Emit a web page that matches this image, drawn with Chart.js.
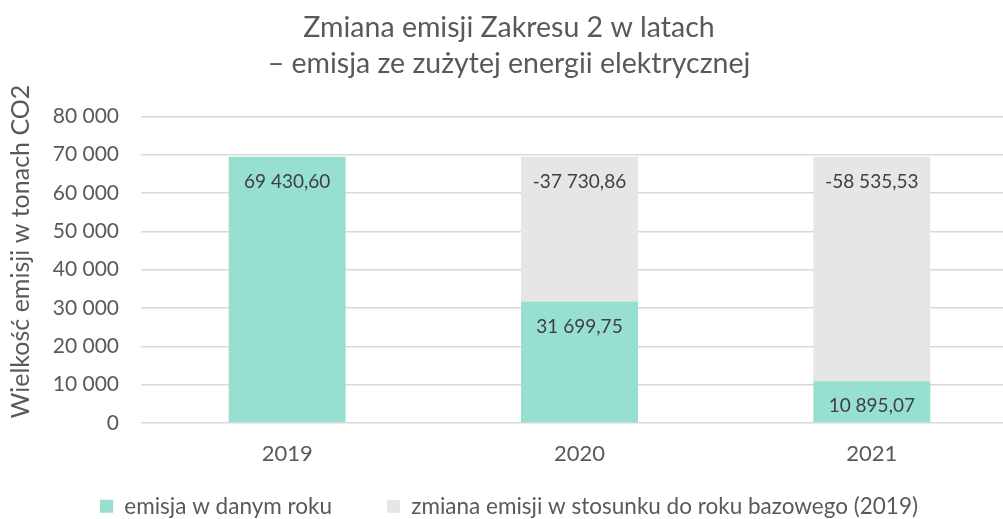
<!DOCTYPE html>
<html>
<head>
<meta charset="utf-8">
<title>Zmiana emisji Zakresu 2</title>
<script src="https://cdn.jsdelivr.net/npm/chart.js"></script>
<style>
  body { margin: 0; background: #fff; overflow: hidden; }
  #wrap { width: 1003px; height: 519px; overflow: hidden; }
</style>
</head>
<body>
<div id="wrap">
  <canvas id="myChart" width="1018" height="519"></canvas>
</div>
<script>
// data
var years = ['2019', '2020', '2021'];
var emisja = [69430.60, 31699.75, 10895.07];          // emisja w danym roku
var zmiana = [null, -37730.86, -58535.53];            // zmiana vs 2019
var seriesNames = ['emisja w danym roku', 'zmiana emisji w stosunku do roku bazowego (2019)'];
var yMax = 80000;
var yStep = 10000;

var textColor = '#595959';

// polish number format: "69 430,60"
function fmt(v, dec) {
    var neg = v < 0;
    var s = Math.abs(v).toFixed(dec);
    var parts = s.split('.');
    var int = parts[0].replace(/\B(?=(\d{3})+(?!\d))/g, ' ');
    return (neg ? '-' : '') + int + (parts[1] ? ',' + parts[1] : '');
}

// the change is shown as the grey part stacked on top of the current emission
var zmianaHeight = [];
for (let i = 0; i < zmiana.length; i++) {
    zmianaHeight.push(zmiana[i] == null ? null : -zmiana[i]);
}
var labelSources = [emisja, zmiana];

var barLabels = {
    id: 'barLabels',
    afterDatasetsDraw: function (chart) {
        var ctx = chart.ctx;
        ctx.save();
        ctx.font = '19px Lato';
        ctx.fillStyle = '#404040';
        ctx.textAlign = 'center';
        ctx.textBaseline = 'middle';
        chart.data.datasets.forEach(function (ds, di) {
            var meta = chart.getDatasetMeta(di);
            meta.data.forEach(function (bar, i) {
                var v = labelSources[di][i];
                if (v == null) return;
                ctx.fillText(fmt(v, 2), bar.x, bar.y + 25);
            });
        });
        ctx.restore();
    }
};

// x axis is kept thin so the legend can sit close; let its labels draw below it.
// y axis title is centred a bit higher, like in the original
var axisTweaks = {
    id: 'axisTweaks',
    afterLayout: function (chart) {
        chart.scales.x.bottom = chart.height;
        chart.scales.y.top = chart.chartArea.top - 36;
    }
};

Chart.defaults.font.family = 'Lato';
Chart.defaults.color = textColor;

var ctx = document.getElementById('myChart').getContext('2d');
var myChart = new Chart(ctx, {
    type: 'bar',
    data: {
        labels: years,
        datasets: [{
            label: seriesNames[0],
            data: emisja,
            backgroundColor: '#97DFD0',
            barPercentage: 0.4,
            categoryPercentage: 1.0
        }, {
            label: seriesNames[1],
            data: zmianaHeight,
            backgroundColor: '#E6E6E6',
            barPercentage: 0.4,
            categoryPercentage: 1.0
        }]
    },
    options: {
        responsive: false,
        animation: false,
        layout: { padding: { top: 4, bottom: 0, left: 0, right: 0 } },
        plugins: {
            title: {
                display: true,
                text: ['Zmiana emisji Zakresu 2 w latach', '\u2013 emisja ze zużytej energii elektrycznej'],
                color: textColor,
                font: { size: 28.5, weight: 'normal', lineHeight: 1.25 },
                padding: { top: 6, bottom: 35 }
            },
            legend: {
                position: 'bottom',
                maxHeight: 79,
                labels: {
                    boxWidth: 13,
                    boxHeight: 13,
                    padding: 55,
                    color: textColor,
                    font: { size: 22.5 }
                }
            },
            tooltip: { enabled: false }
        },
        scales: {
            x: {
                stacked: true,
                grid: { display: false },
                border: { display: false },
                ticks: { font: { size: 22 }, padding: 10 },
                afterFit: function (scale) { scale.height = 17; }
            },
            y: {
                stacked: true,
                min: 0,
                max: yMax,
                ticks: {
                    stepSize: yStep,
                    font: { size: 21 },
                    padding: 22,
                    callback: function (v) { return fmt(v, 0); }
                },
                grid: { color: '#D9D9D9', lineWidth: 1.5, drawTicks: false },
                border: { display: false },
                title: {
                    display: true,
                    text: 'Wielkość emisji w tonach CO2',
                    font: { size: 25 },
                    padding: { top: 6, bottom: 0 }
                },
                afterFit: function (scale) { scale.width = 141; }
            }
        }
    },
    plugins: [barLabels, axisTweaks]
});
</script>
</body>
</html>
